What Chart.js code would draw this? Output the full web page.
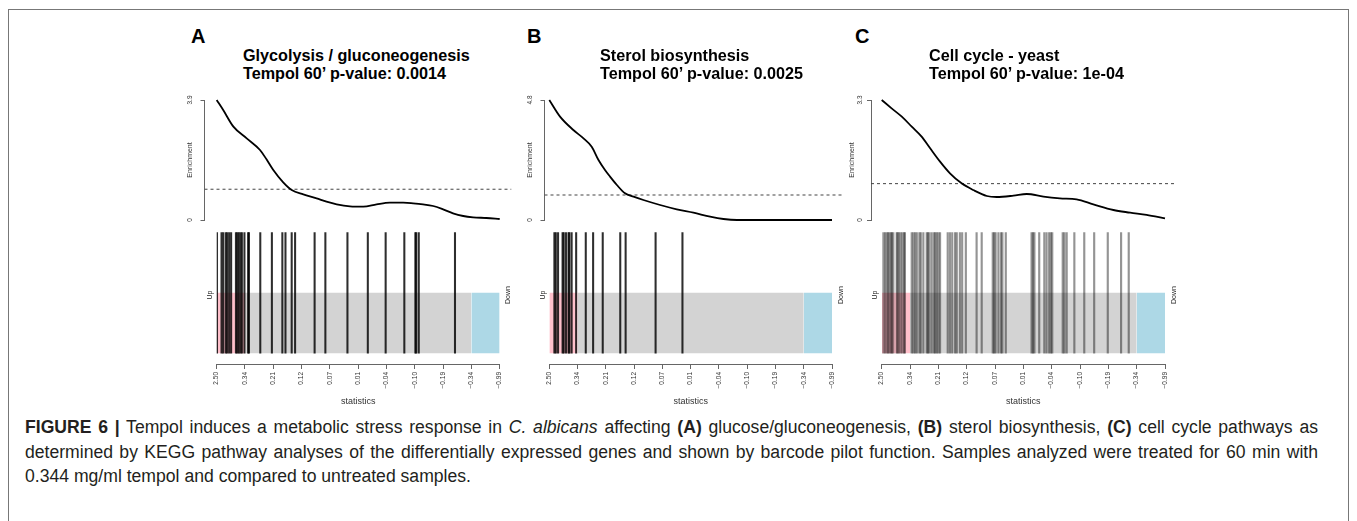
<!DOCTYPE html>
<html>
<head>
<meta charset="utf-8">
<script src="https://cdn.jsdelivr.net/npm/chart.js@4.4.1/dist/chart.umd.min.js"></script>
<style>
  html, body { margin:0; padding:0; background:#fff; width:1357px; height:521px; overflow:hidden;
    font-family:"Liberation Sans", Arial, Helvetica, sans-serif; color:#111; }
  #frame { position:absolute; left:8px; top:9px; width:1341px; height:540px; border:1px solid #777; box-sizing:border-box; }
  canvas { position:absolute; }
  .letter { position:absolute; font-weight:bold; font-size:20px; line-height:20px; white-space:nowrap; color:#000; }
  .ptitle { position:absolute; font-weight:bold; font-size:16.2px; line-height:18.7px; white-space:nowrap; color:#000; }
  .anchor { position:absolute; width:0; height:0; }
  .anchor span { position:absolute; left:0; top:0; font-size:7px; line-height:8px; white-space:nowrap; color:#222;
    transform:translate(-50%,-50%) rotate(-90deg); }
  #caption { position:absolute; left:25px; top:415.2px; width:1293px; font-size:17.6px; line-height:24.5px; color:#231f20; }
  #caption .j { text-align:justify; text-align-last:justify; white-space:nowrap; }
  #caption .l { text-align:left; white-space:nowrap; }
</style>
</head>
<body>
<div id="frame"></div>
<div id="caption">
  <div class="j"><b>FIGURE 6 |</b> Tempol induces a metabolic stress response in <i>C. albicans</i> affecting <b>(A)</b> glucose/gluconeogenesis, <b>(B)</b> sterol biosynthesis, <b>(C)</b> cell cycle pathways as</div>
  <div class="j">determined by KEGG pathway analyses of the differentially expressed genes and shown by barcode pilot function. Samples analyzed were treated for 60 min with</div>
  <div class="l">0.344 mg/ml tempol and compared to untreated samples.</div>
</div>
<script>
// ---------------- DATA ----------------
const xTickLabels = ['2.50', '0.34', '0.21', '0.12', '0.07', '0.01', '\u22120.04', '\u22120.10', '\u22120.19', '\u22120.34', '\u22120.99'];
const regionBreaks = [0, 0.1, 0.9, 1];      // up-region | middle | down-region (fraction of ranked genes)
const thresholdLevel = 1;                   // dashed reference enrichment

const panelLetters = ['A', 'B', 'C'];
const titleA = ['Glycolysis / gluconeogenesis', 'Tempol 60\u2019 p-value: 0.0014'];
const titleB = ['Sterol biosynthesis', 'Tempol 60\u2019 p-value: 0.0025'];
const titleC = ['Cell cycle - yeast', 'Tempol 60\u2019 p-value: 1e-04'];

const enrichMaxA = 3.9, enrichMaxB = 4.8, enrichMaxC = 3.3;
const yTickLabelsA = ['0', '3.9'];
const yTickLabelsB = ['0', '4.8'];
const yTickLabelsC = ['0', '3.3'];

const rankA   = [0, 0.023, 0.059, 0.106, 0.153, 0.176, 0.200, 0.235, 0.265, 0.306, 0.353, 0.388, 0.424, 0.471, 0.518, 0.565, 0.612, 0.659, 0.694, 0.729, 0.765, 0.800, 0.835, 0.871, 0.906, 0.953, 1.0];
const enrichA = [3.9, 3.575, 3.033, 2.654, 2.275, 1.972, 1.625, 1.224, 0.975, 0.834, 0.704, 0.596, 0.509, 0.444, 0.433, 0.509, 0.563, 0.563, 0.542, 0.509, 0.455, 0.347, 0.217, 0.130, 0.087, 0.065, 0.033];

const rankB   = [0, 0.038, 0.085, 0.121, 0.150, 0.174, 0.197, 0.215, 0.239, 0.268, 0.298, 0.333, 0.392, 0.451, 0.510, 0.569, 0.616, 0.664, 1.0];
const enrichB = [4.8, 4.133, 3.6, 3.267, 2.933, 2.4, 2.0, 1.733, 1.4, 1.067, 0.933, 0.8, 0.6, 0.427, 0.293, 0.133, 0.04, 0, 0];

const rankC   = [0, 0.035, 0.071, 0.106, 0.141, 0.171, 0.206, 0.241, 0.282, 0.323, 0.371, 0.406, 0.465, 0.512, 0.571, 0.629, 0.688, 0.747, 0.818, 0.877, 0.935, 1.0];
const enrichC = [3.3, 3.071, 2.842, 2.567, 2.292, 1.971, 1.604, 1.283, 1.008, 0.825, 0.660, 0.633, 0.669, 0.715, 0.642, 0.596, 0.568, 0.431, 0.275, 0.202, 0.138, 0.046];

const barcodeA = [0.001, 0.017, 0.023, 0.032, 0.037, 0.044, 0.051, 0.068, 0.073, 0.078, 0.084, 0.089, 0.098, 0.111, 0.114, 0.154, 0.195, 0.232, 0.243, 0.265, 0.277, 0.346, 0.384, 0.462, 0.534, 0.597, 0.663, 0.702, 0.705, 0.714, 0.842];
const barcodeB = [0.018, 0.023, 0.031, 0.047, 0.051, 0.059, 0.068, 0.071, 0.079, 0.095, 0.129, 0.155, 0.189, 0.251, 0.270, 0.376, 0.471];
const barcodeC = [0.006, 0.012, 0.018, 0.023, 0.027, 0.033, 0.036, 0.041, 0.053, 0.056, 0.061, 0.067, 0.073, 0.079, 0.082,
                  0.106, 0.112, 0.118, 0.124, 0.133, 0.138, 0.147, 0.159, 0.163, 0.168, 0.176, 0.184, 0.189, 0.194, 0.200, 0.206,
                  0.233, 0.241, 0.249, 0.259, 0.265, 0.276, 0.284, 0.297, 0.335, 0.353, 0.392, 0.397, 0.402, 0.412, 0.421, 0.426, 0.438,
                  0.529, 0.534, 0.539, 0.556, 0.574, 0.582, 0.591, 0.597, 0.602, 0.639, 0.645, 0.653, 0.680, 0.715, 0.750, 0.798, 0.845, 0.872];

// ---------------- LAYOUT / STYLE ----------------
const FONT = '"Liberation Sans", Arial, Helvetica, sans-serif';
Chart.defaults.font.family = FONT;
Chart.defaults.color = '#222';
const AXIS_COL = '#666';

const panels = [
  { letter: panelLetters[0], title: titleA, ymax: enrichMaxA, yLabels: yTickLabelsA, rank: rankA, enrich: enrichA, bars: barcodeA,
    barColor: 'rgba(0,0,0,0.82)', barW: 1.4, axisX: 204.5, dataL: 216.7, dataR: 499.7, plotR: 511.5, tickOff: 14, titleOff: 14, letterX: 191, titleX: 243 },
  { letter: panelLetters[1], title: titleB, ymax: enrichMaxB, yLabels: yTickLabelsB, rank: rankB, enrich: enrichB, bars: barcodeB,
    barColor: 'rgba(0,0,0,0.82)', barW: 1.4, axisX: 544.5, dataL: 549.3, dataR: 832.0, plotR: 843.0, tickOff: 14, titleOff: 14, letterX: 527, titleX: 600 },
  { letter: panelLetters[2], title: titleC, ymax: enrichMaxC, yLabels: yTickLabelsC, rank: rankC, enrich: enrichC, bars: barcodeC,
    barColor: 'rgba(0,0,0,0.42)', barW: 1.5, axisX: 871.0, dataL: 881.7, dataR: 1165.0, plotR: 1177.0, tickOff: 10.5, titleOff: 18.5, letterX: 855, titleX: 929 }
];

function addCanvas(left, top, w, h) {
  const c = document.createElement('canvas');
  c.width = w; c.height = h;
  c.style.left = left + 'px'; c.style.top = top + 'px';
  c.style.width = w + 'px'; c.style.height = h + 'px';
  document.body.appendChild(c);
  return c;
}
function addText(cls, left, top, html) {
  const d = document.createElement('div');
  d.className = cls; d.style.left = left + 'px'; d.style.top = top + 'px';
  d.innerHTML = html; document.body.appendChild(d); return d;
}
function addRotLabel(cx, cy, text) {
  const a = document.createElement('div');
  a.className = 'anchor'; a.style.left = cx + 'px'; a.style.top = cy + 'px';
  const s = document.createElement('span'); s.textContent = text; a.appendChild(s);
  document.body.appendChild(a);
}

panels.forEach(p => {
  addText('letter', p.letterX, 25.6, p.letter);
  addText('ptitle', p.titleX, 45.6, p.title.join('<br>'));

  // ---------- enrichment curve ----------
  const cTop = 90, cH = 140;
  const cLeft = Math.floor(p.axisX) - 30;
  const cRight = Math.ceil(p.plotR) + 5;
  const axisW = p.axisX - cLeft;
  const span = p.dataR - p.dataL;
  const xMin = -(p.dataL - p.axisX) / span;
  const xMax = 1 + (p.plotR - p.dataR) / span;
  const cv1 = addCanvas(cLeft, cTop, cRight - cLeft, cH);
  new Chart(cv1, {
    type: 'line',
    data: {
      datasets: [
        { data: p.rank.map((r, i) => ({ x: r, y: p.enrich[i] })), borderColor: '#000', borderWidth: 1.8,
          pointRadius: 0, cubicInterpolationMode: 'monotone', fill: false, clip: 4 },
        { data: [{ x: xMin, y: thresholdLevel }, { x: xMax, y: thresholdLevel }], borderColor: '#444', borderWidth: 1,
          borderDash: [3, 3], pointRadius: 0, fill: false }
      ]
    },
    options: {
      responsive: false, animation: false, devicePixelRatio: 1,
      layout: { padding: { left: 0, top: 10, bottom: 10, right: cRight - p.plotR } },
      plugins: { legend: { display: false }, tooltip: { enabled: false } },
      scales: {
        x: { type: 'linear', display: false, min: xMin, max: xMax },
        y: {
          type: 'linear', min: 0, max: p.ymax,
          afterBuildTicks: s => { s.ticks = [{ value: 0 }, { value: p.ymax }]; },
          afterFit: s => { s.width = axisW; },
          grid: { drawOnChartArea: false, drawTicks: true, tickLength: 4, color: AXIS_COL, lineWidth: 1 },
          border: { display: true, color: AXIS_COL, width: 1 },
          ticks: { minRotation: 90, maxRotation: 90, crossAlign: 'center', padding: p.tickOff - 8.5,
                   font: { size: 6.5 }, color: '#333', callback: (v, i) => p.yLabels[i] },
          title: { display: true, text: 'Enrichment', font: { size: 7 }, color: '#333',
                   padding: { top: axisW - p.titleOff - 4.2, bottom: 0 } }
        }
      }
    }
  });

  // ---------- barcode ----------
  const bTop = 225, bBottom = 412, chartBottom = 364, lineTop = 232.3;
  const bLeft = Math.floor(p.dataL) - 20;
  const bRight = Math.ceil(p.dataR) + 20;
  const BAND = 0.5;
  const cv2 = addCanvas(bLeft, bTop, bRight - bLeft, bBottom - bTop);
  new Chart(cv2, {
    type: 'bar',
    data: {
      datasets: [
        { type: 'bar', data: p.bars.map(b => ({ x: b, y: [0, 1] })), backgroundColor: p.barColor,
          barThickness: p.barW, borderWidth: 0, order: 0 },
        { type: 'line', data: [{ x: regionBreaks[1], y: BAND }, { x: regionBreaks[2], y: BAND }],
          fill: 'origin', backgroundColor: '#d3d3d3', borderWidth: 0, pointRadius: 0, order: 2 },
        { type: 'line', data: [{ x: regionBreaks[0], y: BAND }, { x: regionBreaks[1], y: BAND }],
          fill: 'origin', backgroundColor: '#ffc0cb', borderWidth: 0, pointRadius: 0, order: 1 },
        { type: 'line', data: [{ x: regionBreaks[2], y: BAND }, { x: regionBreaks[3], y: BAND }],
          fill: 'origin', backgroundColor: '#add8e6', borderWidth: 0, pointRadius: 0, order: 1 }
      ]
    },
    options: {
      responsive: false, animation: false, devicePixelRatio: 1,
      layout: { padding: { left: p.dataL - bLeft, right: bRight - p.dataR, top: lineTop - bTop, bottom: 0 } },
      plugins: { legend: { display: false }, tooltip: { enabled: false } },
      scales: {
        x: {
          type: 'linear', min: 0, max: 1, offset: false,
          afterBuildTicks: s => { s.ticks = xTickLabels.map((_, i) => ({ value: i / (xTickLabels.length - 1) })); },
          afterFit: s => { s.height = bBottom - chartBottom; },
          grid: { drawOnChartArea: false, drawTicks: true, tickLength: 5, color: AXIS_COL, lineWidth: 1, offset: false },
          border: { display: true, color: AXIS_COL, width: 1 },
          ticks: { autoSkip: false, minRotation: 90, maxRotation: 90, padding: 3, font: { size: 6.5 }, color: '#333',
                   callback: (v, i) => xTickLabels[i] },
          title: { display: true, text: 'statistics', font: { size: 9 }, color: '#333', padding: { top: 0, bottom: 4.9 } }
        },
        y: { type: 'linear', display: false, min: -0.09, max: 1 }
      }
    }
  });

  addRotLabel(p.dataL - 6.3, 295, 'Up');
  addRotLabel(p.dataR + 8.5, 295, 'Down');
});
</script>
</body>
</html>
